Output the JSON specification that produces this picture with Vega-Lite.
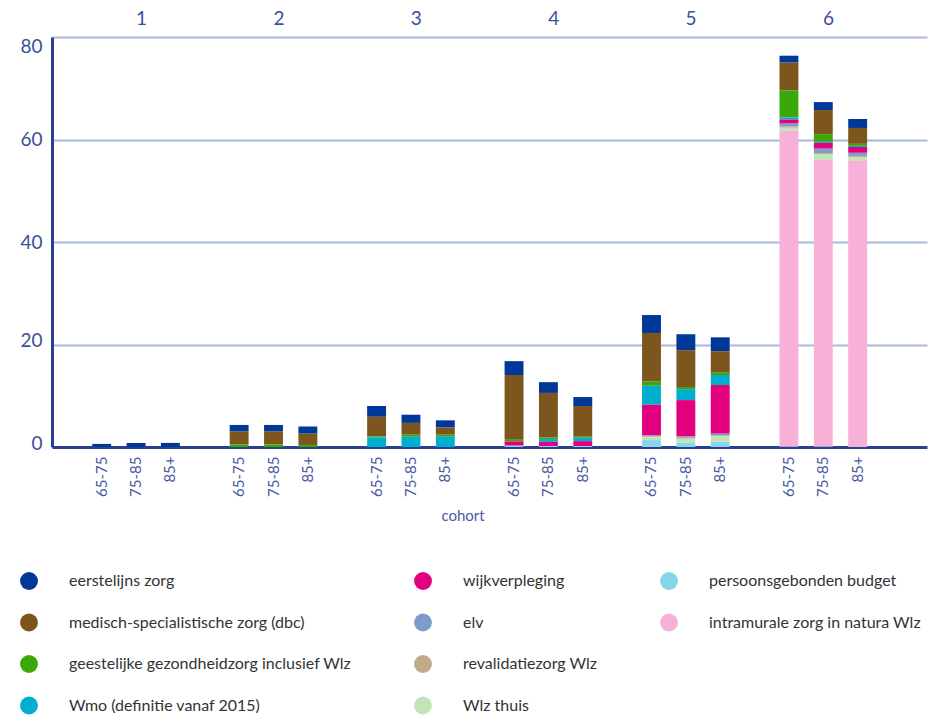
{
  "$schema": "https://vega.github.io/schema/vega-lite/v6.json",
  "width": 875,
  "height": 410,
  "autosize": {"type": "none"},
  "padding": {"left": 52, "top": 37, "right": 7, "bottom": 268},
  "background": "white",
  "config": {
    "view": {"stroke": null},
    "font": "Lato"
  },
  "data": {
    "values": [
      {"groep": "1", "cohort": "65-75", "eerstelijns zorg": 0.6},
      {"groep": "1", "cohort": "75-85", "eerstelijns zorg": 0.8},
      {"groep": "1", "cohort": "85+", "eerstelijns zorg": 0.8},
      {"groep": "2", "cohort": "65-75", "eerstelijns zorg": 1.3, "medisch-specialistische zorg (dbc)": 2.5, "geestelijke gezondheidzorg inclusief Wlz": 0.5},
      {"groep": "2", "cohort": "75-85", "eerstelijns zorg": 1.3, "medisch-specialistische zorg (dbc)": 2.5, "geestelijke gezondheidzorg inclusief Wlz": 0.5},
      {"groep": "2", "cohort": "85+", "eerstelijns zorg": 1.4, "medisch-specialistische zorg (dbc)": 2.2, "geestelijke gezondheidzorg inclusief Wlz": 0.4},
      {"groep": "3", "cohort": "65-75", "eerstelijns zorg": 2.1, "medisch-specialistische zorg (dbc)": 3.8, "geestelijke gezondheidzorg inclusief Wlz": 0.2, "Wmo (definitie vanaf 2015)": 1.9},
      {"groep": "3", "cohort": "75-85", "eerstelijns zorg": 1.6, "medisch-specialistische zorg (dbc)": 2.3, "geestelijke gezondheidzorg inclusief Wlz": 0.4, "Wmo (definitie vanaf 2015)": 2.0},
      {"groep": "3", "cohort": "85+", "eerstelijns zorg": 1.4, "medisch-specialistische zorg (dbc)": 1.4, "geestelijke gezondheidzorg inclusief Wlz": 0.4, "Wmo (definitie vanaf 2015)": 2.0},
      {"groep": "4", "cohort": "65-75", "eerstelijns zorg": 2.7, "medisch-specialistische zorg (dbc)": 12.5, "geestelijke gezondheidzorg inclusief Wlz": 0.45, "wijkverpleging": 0.85, "persoonsgebonden budget": 0.25},
      {"groep": "4", "cohort": "75-85", "eerstelijns zorg": 2.1, "medisch-specialistische zorg (dbc)": 8.7, "geestelijke gezondheidzorg inclusief Wlz": 0.3, "Wmo (definitie vanaf 2015)": 0.55, "wijkverpleging": 0.8, "persoonsgebonden budget": 0.2},
      {"groep": "4", "cohort": "85+", "eerstelijns zorg": 1.75, "medisch-specialistische zorg (dbc)": 6.0, "geestelijke gezondheidzorg inclusief Wlz": 0.2, "Wmo (definitie vanaf 2015)": 0.65, "wijkverpleging": 0.95, "persoonsgebonden budget": 0.2},
      {"groep": "5", "cohort": "65-75", "eerstelijns zorg": 3.5, "medisch-specialistische zorg (dbc)": 9.5, "geestelijke gezondheidzorg inclusief Wlz": 0.8, "Wmo (definitie vanaf 2015)": 3.7, "wijkverpleging": 6.0, "elv": 0.2, "revalidatiezorg Wlz": 0.15, "Wlz thuis": 0.55, "persoonsgebonden budget": 1.35},
      {"groep": "5", "cohort": "75-85", "eerstelijns zorg": 3.1, "medisch-specialistische zorg (dbc)": 7.2, "geestelijke gezondheidzorg inclusief Wlz": 0.4, "Wmo (definitie vanaf 2015)": 2.15, "wijkverpleging": 7.1, "elv": 0.25, "revalidatiezorg Wlz": 0.2, "Wlz thuis": 0.75, "persoonsgebonden budget": 0.85},
      {"groep": "5", "cohort": "85+", "eerstelijns zorg": 2.7, "medisch-specialistische zorg (dbc)": 4.2, "geestelijke gezondheidzorg inclusief Wlz": 0.45, "Wmo (definitie vanaf 2015)": 1.95, "wijkverpleging": 9.5, "elv": 0.4, "revalidatiezorg Wlz": 0.1, "Wlz thuis": 1.1, "persoonsgebonden budget": 1.0},
      {"groep": "6", "cohort": "65-75", "eerstelijns zorg": 1.35, "medisch-specialistische zorg (dbc)": 5.45, "geestelijke gezondheidzorg inclusief Wlz": 5.25, "Wmo (definitie vanaf 2015)": 0.4, "wijkverpleging": 0.8, "elv": 0.6, "revalidatiezorg Wlz": 0.2, "Wlz thuis": 0.6, "intramurale zorg in natura Wlz": 61.6, "persoonsgebonden budget": 0.1},
      {"groep": "6", "cohort": "75-85", "eerstelijns zorg": 1.55, "medisch-specialistische zorg (dbc)": 4.7, "geestelijke gezondheidzorg inclusief Wlz": 1.5, "Wmo (definitie vanaf 2015)": 0.2, "wijkverpleging": 1.15, "elv": 0.85, "revalidatiezorg Wlz": 0.2, "Wlz thuis": 1.15, "intramurale zorg in natura Wlz": 55.9, "persoonsgebonden budget": 0.1},
      {"groep": "6", "cohort": "85+", "eerstelijns zorg": 1.75, "medisch-specialistische zorg (dbc)": 3.1, "geestelijke gezondheidzorg inclusief Wlz": 0.4, "Wmo (definitie vanaf 2015)": 0.2, "wijkverpleging": 1.15, "elv": 0.6, "revalidatiezorg Wlz": 0.2, "Wlz thuis": 0.8, "intramurale zorg in natura Wlz": 55.8}
    ]
  },
  "transform": [
    {"fold": ["eerstelijns zorg", "medisch-specialistische zorg (dbc)", "geestelijke gezondheidzorg inclusief Wlz", "Wmo (definitie vanaf 2015)", "wijkverpleging", "elv", "revalidatiezorg Wlz", "Wlz thuis", "persoonsgebonden budget", "intramurale zorg in natura Wlz"], "as": ["zorg", "waarde"]},
    {"filter": "datum.waarde > 0"},
    {"calculate": "datum.groep + ' ' + datum.cohort", "as": "xkey"},
    {"calculate": "indexof(['persoonsgebonden budget', 'intramurale zorg in natura Wlz', 'Wlz thuis', 'revalidatiezorg Wlz', 'elv', 'wijkverpleging', 'Wmo (definitie vanaf 2015)', 'geestelijke gezondheidzorg inclusief Wlz', 'medisch-specialistische zorg (dbc)', 'eerstelijns zorg'], datum.zorg)", "as": "stapel"}
  ],
  "layer": [
    {
      "mark": {"type": "point", "opacity": 0},
      "encoding": {
        "x": {
          "field": "groep",
          "type": "nominal",
          "scale": {"type": "point", "domain": ["1", "2", "3", "4", "5", "6"], "padding": 0.684},
          "axis": {
            "orient": "top",
            "title": null,
            "domain": false,
            "ticks": false,
            "grid": false,
            "labelAngle": 0,
            "labelFontSize": 19,
            "labelColor": "#3B4F9C",
            "labelPadding": 9,
            "labelOffset": -5
          }
        },
        "y": {
          "field": "waarde",
          "type": "quantitative",
          "scale": {"domain": [0, 80], "nice": false},
          "axis": {
            "values": [0, 20, 40, 60, 80],
            "title": null,
            "ticks": false,
            "domainColor": "#2B3F8F",
            "domainWidth": 3,
            "grid": true,
            "gridColor": {"condition": {"test": "datum.value === 0", "value": "#2B3F8F"}, "value": "#A9B8DC"},
            "gridWidth": {"condition": {"test": "datum.value === 0", "value": 3}, "value": 2},
            "labelFontSize": 19,
            "labelColor": "#3B4F9C",
            "labelPadding": 10,
            "labelBaseline": {"condition": {"test": "datum.value === 80", "value": "top"}, "value": "middle"},
            "labelOffset": {"condition": {"test": "datum.value <= 20", "value": -4}, "value": 0}
          }
        }
      }
    },
    {
      "mark": {"type": "bar"},
      "encoding": {
        "x": {
          "field": "xkey",
          "type": "nominal",
          "sort": null,
          "scale": {
            "domain": ["gap1", "1 65-75", "1 75-85", "1 85+", "gap2", "2 65-75", "2 75-85", "2 85+", "gap3", "3 65-75", "3 75-85", "3 85+", "gap4", "4 65-75", "4 75-85", "4 85+", "gap5", "5 65-75", "5 75-85", "5 85+", "gap6", "6 65-75", "6 75-85", "6 85+"],
            "range": [0, 821],
            "paddingInner": 0.45,
            "paddingOuter": 0.171
          },
          "axis": {
            "orient": "bottom",
            "labelExpr": "indexof(datum.value, ' ') > 0 ? split(datum.value, ' ')[1] : ''",
            "labelAngle": -90,
            "labelFontSize": 15,
            "labelColor": "#4A5BA3",
            "labelPadding": 9,
            "ticks": false,
            "domain": false,
            "grid": false,
            "title": "cohort",
            "titleFontSize": 15,
            "titleFontWeight": "normal",
            "titleColor": "#4A5BA3",
            "titlePadding": 12
          }
        },
        "y": {
          "field": "waarde",
          "type": "quantitative",
          "stack": "zero",
          "scale": {"domain": [0, 80], "nice": false},
          "axis": {
            "values": [0, 20, 40, 60, 80],
            "title": null,
            "ticks": false,
            "domainColor": "#2B3F8F",
            "domainWidth": 3,
            "grid": true,
            "gridColor": {"condition": {"test": "datum.value === 0", "value": "#2B3F8F"}, "value": "#A9B8DC"},
            "gridWidth": {"condition": {"test": "datum.value === 0", "value": 3}, "value": 2},
            "labelFontSize": 19,
            "labelColor": "#3B4F9C",
            "labelPadding": 10,
            "labelBaseline": {"condition": {"test": "datum.value === 80", "value": "top"}, "value": "middle"},
            "labelOffset": {"condition": {"test": "datum.value <= 20", "value": -4}, "value": 0}
          }
        },
        "color": {
          "field": "zorg",
          "type": "nominal",
          "scale": {
            "domain": ["eerstelijns zorg", "medisch-specialistische zorg (dbc)", "geestelijke gezondheidzorg inclusief Wlz", "Wmo (definitie vanaf 2015)", "wijkverpleging", "elv", "revalidatiezorg Wlz", "Wlz thuis", "persoonsgebonden budget", "intramurale zorg in natura Wlz", " "],
            "range": ["#00389A", "#7D561D", "#3AA70A", "#00AFD0", "#E2007F", "#7F9BCB", "#BFAA8A", "#C4E4B8", "#84D6E8", "#F7B1D8", "#FFFFFF"]
          },
          "legend": {
            "orient": "none",
            "legendX": -32,
            "legendY": 535,
            "title": null,
            "columns": 3,
            "columnPadding": 62,
            "rowPadding": 23.5,
            "symbolType": "circle",
            "symbolSize": 320,
            "symbolStrokeWidth": 0,
            "symbolOpacity": 1,
            "labelFontSize": 16,
            "labelColor": "#333333",
            "labelOffset": 31,
            "labelLimit": 0
          }
        },
        "order": {"field": "stapel", "type": "quantitative", "sort": "ascending"}
      }
    }
  ],
  "resolve": {"scale": {"x": "independent"}}
}
